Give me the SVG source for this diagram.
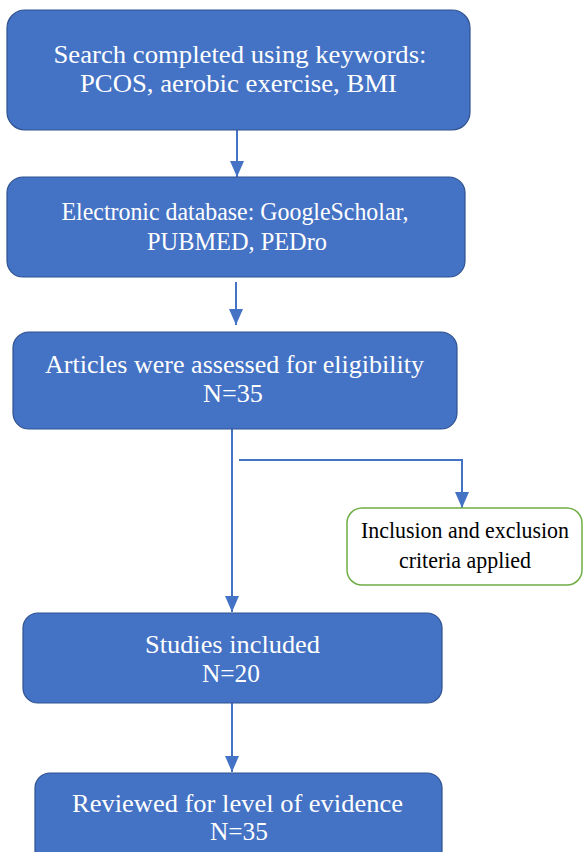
<svg xmlns="http://www.w3.org/2000/svg" width="584" height="852" viewBox="0 0 584 852">
<defs>
<style>
.box{fill:#4472C4;stroke:#2F528F;stroke-width:1.2}
.gbox{fill:#FFFFFF;stroke:#70AD47;stroke-width:1.5}
.t{font-family:"Liberation Serif","Times New Roman",serif;font-size:26px;fill:#FFFFFF;text-anchor:middle}
.tk{font-family:"Liberation Serif","Times New Roman",serif;font-size:24px;fill:#000000;text-anchor:middle}
.c{fill:none;stroke:#4472C4;stroke-width:2}
</style>
<marker id="arr" viewBox="0 0 16 14" refX="16" refY="7" markerWidth="16" markerHeight="14" orient="auto" markerUnits="userSpaceOnUse">
<path d="M0,0 L16,7 L0,14 Z" fill="#4472C4"/>
</marker>
</defs>
<g id="connectors">
<line class="c" x1="237" y1="130" x2="237" y2="177" marker-end="url(#arr)"/>
<line class="c" x1="236" y1="282" x2="236" y2="325" marker-end="url(#arr)"/>
<line class="c" x1="232" y1="429" x2="232" y2="612" marker-end="url(#arr)"/>
<polyline class="c" points="239,460 462,460 462,508" marker-end="url(#arr)"/>
<line class="c" x1="232" y1="703" x2="232" y2="772" marker-end="url(#arr)"/>
</g>
<g id="node-search">
<rect class="box" x="7" y="10" width="463" height="120" rx="18"/>
<text class="t" x="240" y="63" textLength="373" lengthAdjust="spacingAndGlyphs">Search completed using keywords:</text>
<text class="t" x="238.5" y="92" textLength="317" lengthAdjust="spacingAndGlyphs">PCOS, aerobic exercise, BMI</text>
</g>
<g id="node-database">
<rect class="box" x="7" y="177" width="458" height="100" rx="16"/>
<text class="t" x="235" y="220" textLength="347" lengthAdjust="spacingAndGlyphs">Electronic database:  GoogleScholar,</text>
<text class="t" x="237" y="250" textLength="180" lengthAdjust="spacingAndGlyphs">PUBMED, PEDro</text>
</g>
<g id="node-assessed">
<rect class="box" x="13" y="332" width="444" height="97" rx="16"/>
<text class="t" x="234.5" y="373" textLength="379" lengthAdjust="spacingAndGlyphs">Articles were assessed for eligibility</text>
<text class="t" x="233" y="402" textLength="60" lengthAdjust="spacingAndGlyphs">N=35</text>
</g>
<g id="node-criteria">
<rect class="gbox" x="347" y="508" width="235" height="77" rx="15"/>
<text class="tk" x="465" y="538" textLength="208" lengthAdjust="spacingAndGlyphs">Inclusion and exclusion</text>
<text class="tk" x="465" y="568" textLength="132" lengthAdjust="spacingAndGlyphs">criteria applied</text>
</g>
<g id="node-included">
<rect class="box" x="23" y="613" width="419" height="90" rx="15"/>
<text class="t" x="232.5" y="653" textLength="175" lengthAdjust="spacingAndGlyphs">Studies included</text>
<text class="t" x="231" y="682" textLength="58" lengthAdjust="spacingAndGlyphs">N=20</text>
</g>
<g id="node-reviewed">
<rect class="box" x="35" y="773" width="407" height="95" rx="15"/>
<text class="t" x="237.5" y="812" textLength="331" lengthAdjust="spacingAndGlyphs">Reviewed for level of evidence</text>
<text class="t" x="239" y="840" textLength="58" lengthAdjust="spacingAndGlyphs">N=35</text>
</g>
</svg>
